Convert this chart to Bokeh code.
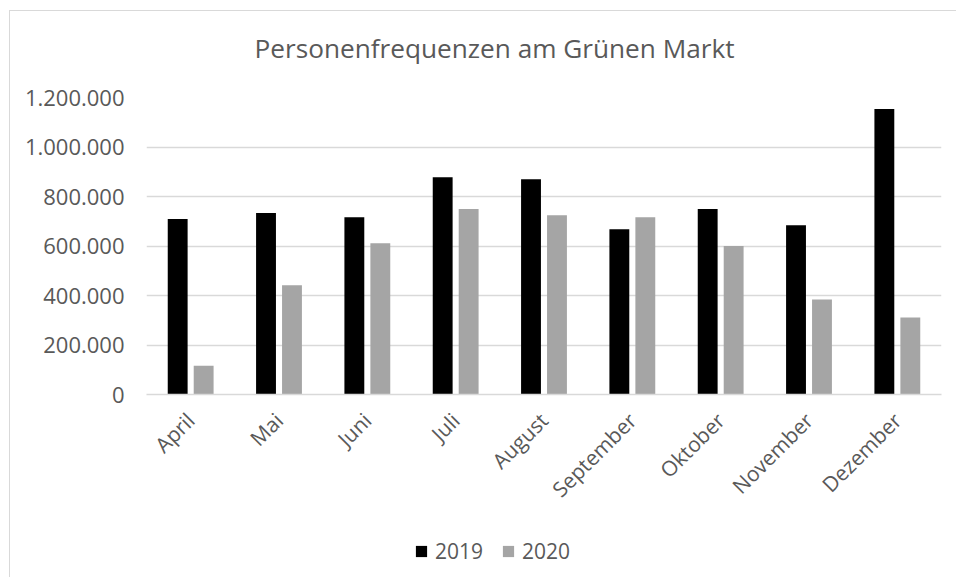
import math
from bokeh.plotting import figure
from bokeh.layouts import column
from bokeh.models import ColumnDataSource, FactorRange, Legend, LegendItem, Title, CustomJSTickFormatter, FixedTicker
from bokeh.transform import dodge
from bokeh.embed import file_html
from bokeh.resources import INLINE

months = ["April", "Mai", "Juni", "Juli", "August", "September", "Oktober", "November", "Dezember"]
v2019 = [709000, 733000, 716000, 878000, 870000, 668000, 750000, 684000, 1154000]
v2020 = [116000, 441000, 611000, 749000, 724000, 716000, 600000, 384000, 311000]
y_ticks = [0, 200000, 400000, 600000, 800000, 1000000, 1200000]
series = ["2019", "2020"]

FONT = "Open Sans"
TXT = "#595959"
GRID = "#d9d9d9"
C19 = "#000000"
C20 = "#a5a5a5"

src = ColumnDataSource(dict(m=months, a=v2019, b=v2020))
xr = FactorRange(*months)

p = figure(x_range=xr, y_range=(0, 1200000),
           width=946, height=504, output_backend="svg", toolbar_location=None,
           min_border_left=136, min_border_right=15, min_border_top=86, min_border_bottom=112)

p.vbar(x=dodge("m", -0.147, range=xr), top="a", width=0.225, source=src,
       fill_color=C19, line_color=None)
p.vbar(x=dodge("m", 0.147, range=xr), top="b", width=0.225, source=src,
       fill_color=C20, line_color=None)

spacer = Title(text=" ", text_font_size="1px", standoff=24)
p.add_layout(spacer, "above")
t = Title(text="Personenfrequenzen am Grünen Markt", align="left", offset=108,
          text_font=FONT, text_font_size="26.2px", text_font_style="normal", text_color=TXT)
p.add_layout(t, "above")

p.outline_line_color = None
p.xgrid.grid_line_color = None
p.ygrid.grid_line_color = GRID
p.ygrid.grid_line_width = 1.5
p.yaxis.ticker = FixedTicker(ticks=y_ticks)
p.yaxis.formatter = CustomJSTickFormatter(code="return tick.toLocaleString('de-DE');")
p.yaxis.axis_line_color = None
p.yaxis.major_tick_line_color = None
p.yaxis.minor_tick_line_color = None
p.yaxis.major_tick_out = 0
p.yaxis.major_tick_in = 0
p.yaxis.major_label_standoff = 22
p.yaxis.major_label_text_font = FONT
p.yaxis.major_label_text_font_size = "22px"
p.yaxis.major_label_text_color = TXT

p.xaxis.axis_line_color = GRID
p.xaxis.axis_line_width = 1.5
p.xaxis.major_tick_line_color = None
p.xaxis.minor_tick_line_color = None
p.xaxis.major_tick_out = 0
p.xaxis.major_tick_in = 0
p.xaxis.major_label_orientation = math.pi / 4
p.xaxis.major_label_standoff = 22
p.xaxis.major_label_text_font = FONT
p.xaxis.major_label_text_font_size = "21px"
p.xaxis.major_label_text_color = TXT

# legend strip below the chart
q = figure(x_range=xr, y_range=(0, 1), width=946, height=62, output_backend="svg",
           toolbar_location=None, min_border=0)
q.axis.visible = False
q.grid.visible = False
q.outline_line_color = None
l1 = q.vbar(x=dodge("m", -0.147, range=xr), top="a", width=0.225, source=src,
            fill_color=C19, line_color=None, visible=False)
l2 = q.vbar(x=dodge("m", 0.147, range=xr), top="b", width=0.225, source=src,
            fill_color=C20, line_color=None, visible=False)
legend = Legend(items=[LegendItem(label=series[0], renderers=[l1]), LegendItem(label=series[1], renderers=[l2])],
                orientation="horizontal", location=(268, 12),
                glyph_width=14, glyph_height=14, label_standoff=7, spacing=18,
                label_text_font=FONT, label_text_font_size="21px", label_text_color=TXT,
                border_line_color=None, background_fill_alpha=0, padding=0, margin=0)
q.add_layout(legend, "center")

layout = column(p, q, spacing=0)
layout.styles = {"border-left": "1px solid #d9d9d9", "border-top": "1px solid #d9d9d9",
                 "margin-left": "9px", "margin-top": "10px"}

open("out.html", "w").write(file_html(layout, INLINE))
